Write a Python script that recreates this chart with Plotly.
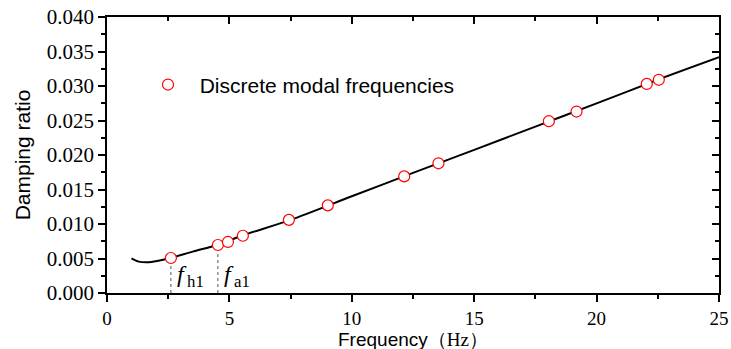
import plotly.graph_objects as go

# Damping curve
curve_f = [1.0, 1.3, 1.7, 2.0, 2.6, 3.5, 4.5, 5.5, 7.5, 10.0, 12.5, 15.0, 17.5, 20.0, 22.5, 25.0]
curve_z = [0.00503, 0.00455, 0.00445, 0.00460, 0.00507, 0.00600, 0.00696, 0.00830, 0.01060,
           0.01402, 0.01740, 0.02075, 0.02412, 0.02748, 0.03090, 0.03416]

# Discrete modal frequencies
modal_f = [2.61, 4.53, 4.94, 5.55, 7.43, 9.02, 12.14, 13.54, 18.05, 19.18, 22.05, 22.54]
modal_z = [0.00507, 0.00696, 0.00740, 0.00830, 0.01060, 0.01270, 0.01690, 0.01880,
           0.02490, 0.02630, 0.03030, 0.03090]

# Marked frequencies
mark_f = [2.61, 4.53]
mark_z = [0.00507, 0.00696]
mark_labels = ["h1", "a1"]

x_ticks = [0, 5, 10, 15, 20, 25]
y_ticks = [0.000, 0.005, 0.010, 0.015, 0.020, 0.025, 0.030, 0.035, 0.040]

SERIF = "Liberation Serif, Times New Roman, serif"
SANS = "Liberation Sans, Arial, sans-serif"

fig = go.Figure()

# dotted verticals
for f, z in zip(mark_f, mark_z):
    fig.add_trace(go.Scatter(x=[f, f], y=[0, z], mode="lines",
                             line=dict(color="#555555", width=1, dash="dot"),
                             showlegend=False, hoverinfo="skip"))

fig.add_trace(go.Scatter(x=curve_f, y=curve_z, mode="lines",
                         line=dict(color="black", width=2, shape="spline", smoothing=0.8),
                         showlegend=False))

fig.add_trace(go.Scatter(x=modal_f, y=modal_z, mode="markers",
                         name="\u00a0\u00a0Discrete modal frequencies",
                         marker=dict(symbol="circle", size=11, color="white",
                                     line=dict(color="#ff0000", width=1.2))))

# invisible trace for mirrored axes
fig.add_trace(go.Scatter(x=[0], y=[0], xaxis="x2", yaxis="y2", mode="markers",
                         marker=dict(opacity=0), showlegend=False, hoverinfo="skip"))

for f, lab in zip(mark_f, mark_labels):
    fig.add_annotation(x=f + 0.15, y=0.00246, xref="x", yref="y",
                       text="<i>f</i><sub>\u2009" + lab + "</sub>", showarrow=False,
                       xanchor="left", yanchor="middle",
                       font=dict(family=SERIF, size=24, color="black"))

# x-axis title
fig.add_annotation(x=0.5, y=-0.1667, xref="paper", yref="paper", xanchor="center", yanchor="middle",
                   text="Frequency<span style=\"font-family:'Liberation Serif'\">（Hz）</span>",
                   showarrow=False, font=dict(family=SANS, size=19, color="black"))

axis_common = dict(showline=True, linecolor="black", linewidth=1.5, showgrid=False,
                   zeroline=False, tickcolor="black", tickwidth=1.5, automargin=False)

fig.update_layout(
    width=731, height=349,
    margin=dict(l=107, r=12, t=17, b=56),
    paper_bgcolor="white", plot_bgcolor="white",
    xaxis=dict(range=[0, 25], tickvals=x_ticks, ticktext=[str(v) for v in x_ticks],
               ticks="outside", ticklen=7,
               minor=dict(ticks="outside", ticklen=4, dtick=2.5, tickcolor="black", tickwidth=1.5),
               tickfont=dict(family=SERIF, size=19, color="black"),
               **axis_common),
    yaxis=dict(range=[0, 0.040], tickvals=y_ticks, ticktext=["%.3f" % v for v in y_ticks],
               ticks="outside", ticklen=7,
               minor=dict(ticks="outside", ticklen=4, dtick=0.0025, tickcolor="black", tickwidth=1.5),
               tickfont=dict(family=SERIF, size=21, color="black"),
               title=dict(text="Damping ratio", font=dict(family=SANS, size=21, color="black"),
                          standoff=10),
               **axis_common),
    xaxis2=dict(range=[0, 25], overlaying="x", side="top", anchor="y", tickvals=x_ticks,
                showticklabels=False, ticks="inside", ticklen=7,
                minor=dict(ticks="inside", ticklen=4, dtick=2.5, tickcolor="black", tickwidth=1.5),
                **axis_common),
    yaxis2=dict(range=[0, 0.040], overlaying="y", side="right", anchor="x", tickvals=y_ticks,
                showticklabels=False, ticks="inside", ticklen=7,
                minor=dict(ticks="inside", ticklen=4, dtick=0.0025, tickcolor="black", tickwidth=1.5),
                **axis_common),
    legend=dict(x=0.067, y=0.754, xanchor="left", yanchor="middle",
                bgcolor="rgba(0,0,0,0)", font=dict(family=SANS, size=21, color="black")),
    showlegend=True,
)

fig.write_html("out.html")
